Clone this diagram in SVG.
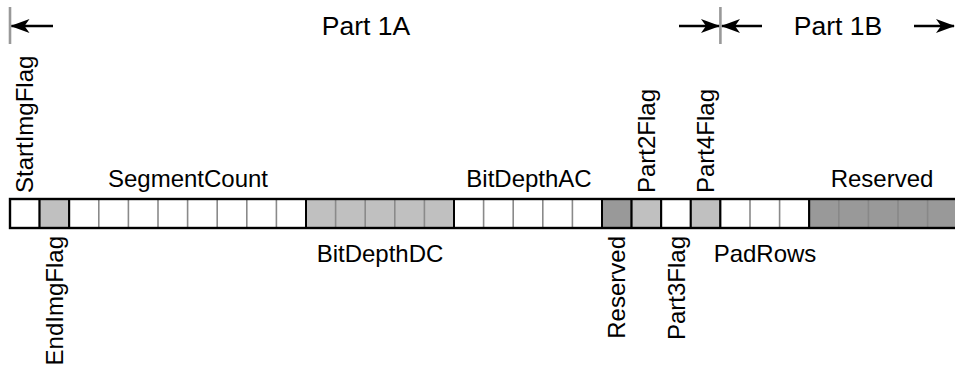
<svg xmlns="http://www.w3.org/2000/svg" width="955" height="371" viewBox="0 0 955 371">
<style>
text{font-family:"Liberation Sans",Arial,sans-serif;font-size:24px;fill:#000}
.part{font-size:26.5px}
.w{fill:#fff}.l{fill:#c0c0c0}.d{fill:#999}
.div{stroke:#8a8a8a;stroke-width:1.6}
.fb{fill:none;stroke:#000;stroke-width:2}
.arr{stroke:#000;stroke-width:2.4;fill:none;marker-end:url(#ah)}
.sep{stroke:#999;stroke-width:2.6}
</style>
<defs>
<marker id="ah" viewBox="0 0 19 14" refX="18" refY="7" markerWidth="19" markerHeight="14" markerUnits="userSpaceOnUse" orient="auto">
<path d="M0,0 L19,7 L0,14 L5,7 z" fill="#000"/>
</marker>
</defs>
<rect width="955" height="371" fill="#fff"/>
<g id="connectors">
<line class="sep" x1="10" y1="7" x2="10" y2="44"/>
<line class="sep" x1="720.4" y1="7" x2="720.4" y2="44"/>
<line class="arr" x1="53" y1="26" x2="11.5" y2="26"/>
<line class="arr" x1="679" y1="26" x2="719" y2="26"/>
<line class="arr" x1="762" y1="26" x2="722" y2="26"/>
<line class="arr" x1="914" y1="26" x2="954" y2="26"/>
<text class="part" x="366" y="35" text-anchor="middle">Part 1A</text>
<text class="part" x="838" y="35" text-anchor="middle">Part 1B</text>
</g>
<g id="StartImgFlag">
<rect class="w" x="10" y="199" width="29.6" height="29"/>
<rect class="fb" x="10" y="199" width="29.6" height="29"/>
<text transform="translate(33,193) rotate(-90)">StartImgFlag</text>
</g>
<g id="EndImgFlag">
<rect class="l" x="39.6" y="199" width="29.6" height="29"/>
<rect class="fb" x="39.6" y="199" width="29.6" height="29"/>
<text transform="translate(63,236) rotate(-90)" text-anchor="end">EndImgFlag</text>
</g>
<g id="SegmentCount">
<rect class="w" x="69.2" y="199" width="236.8" height="29"/>
<path class="div" d="M98.8,200V227M128.4,200V227M158,200V227M187.6,200V227M217.2,200V227M246.8,200V227M276.4,200V227"/>
<rect class="fb" x="69.2" y="199" width="236.8" height="29"/>
<text x="188" y="187" text-anchor="middle">SegmentCount</text>
</g>
<g id="BitDepthDC">
<rect class="l" x="306" y="199" width="148" height="29"/>
<path class="div" d="M335.6,200V227M365.2,200V227M394.8,200V227M424.4,200V227"/>
<rect class="fb" x="306" y="199" width="148" height="29"/>
<text x="380" y="262" text-anchor="middle">BitDepthDC</text>
</g>
<g id="BitDepthAC">
<rect class="w" x="454" y="199" width="148" height="29"/>
<path class="div" d="M483.6,200V227M513.2,200V227M542.8,200V227M572.4,200V227"/>
<rect class="fb" x="454" y="199" width="148" height="29"/>
<text x="529" y="187" text-anchor="middle">BitDepthAC</text>
</g>
<g id="Reserved1">
<rect class="d" x="602" y="199" width="29.6" height="29"/>
<rect class="fb" x="602" y="199" width="29.6" height="29"/>
<text transform="translate(625,236) rotate(-90)" text-anchor="end">Reserved</text>
</g>
<g id="Part2Flag">
<rect class="l" x="631.6" y="199" width="29.6" height="29"/>
<rect class="fb" x="631.6" y="199" width="29.6" height="29"/>
<text transform="translate(655,193) rotate(-90)">Part2Flag</text>
</g>
<g id="Part3Flag">
<rect class="w" x="661.2" y="199" width="29.6" height="29"/>
<rect class="fb" x="661.2" y="199" width="29.6" height="29"/>
<text transform="translate(685,236) rotate(-90)" text-anchor="end">Part3Flag</text>
</g>
<g id="Part4Flag">
<rect class="l" x="690.8" y="199" width="29.6" height="29"/>
<rect class="fb" x="690.8" y="199" width="29.6" height="29"/>
<text transform="translate(714,193) rotate(-90)">Part4Flag</text>
</g>
<g id="PadRows">
<rect class="w" x="720.4" y="199" width="88.8" height="29"/>
<path class="div" d="M750,200V227M779.6,200V227"/>
<rect class="fb" x="720.4" y="199" width="88.8" height="29"/>
<text x="765" y="262" text-anchor="middle">PadRows</text>
</g>
<g id="Reserved2">
<rect class="d" x="809.2" y="199" width="148" height="29"/>
<path class="div" d="M838.8,200V227M868.4,200V227M898,200V227M927.6,200V227" style="stroke:#888"/>
<rect class="fb" x="809.2" y="199" width="148" height="29"/>
<text x="882" y="187" text-anchor="middle">Reserved</text>
</g>
<rect x="10" y="199" width="947.2" height="29" fill="none" stroke="#000" stroke-width="2.4"/>
</svg>
